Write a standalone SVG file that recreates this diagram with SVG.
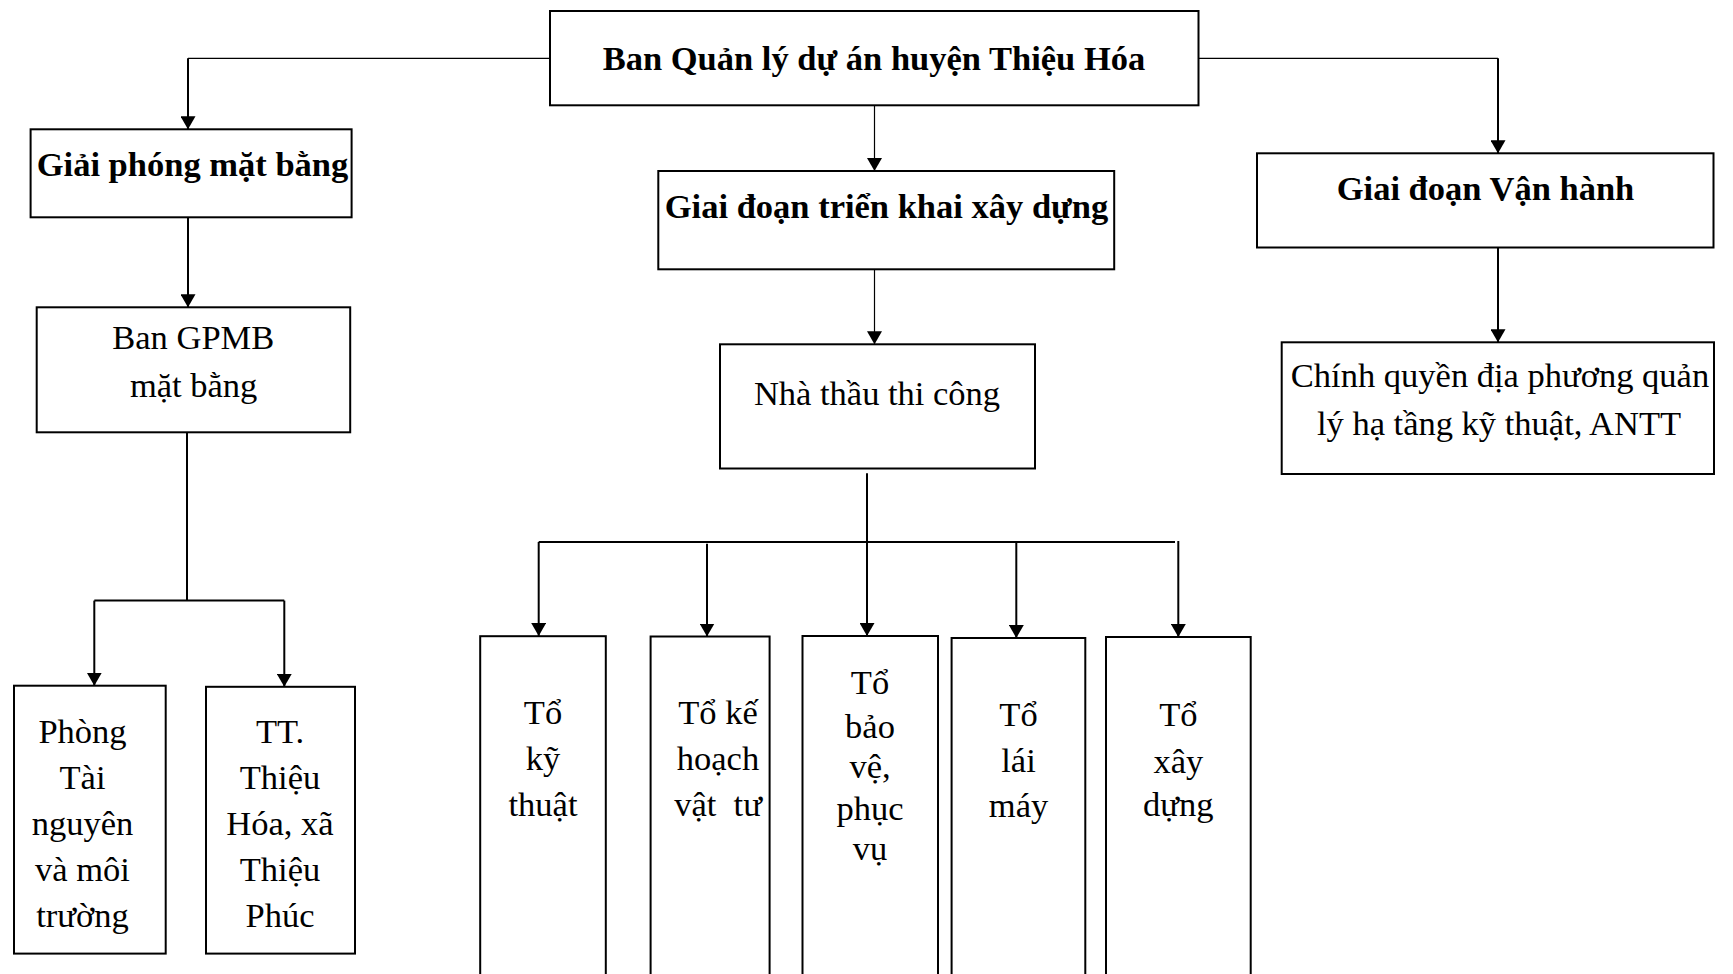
<svg xmlns="http://www.w3.org/2000/svg" width="1733" height="974" viewBox="0 0 1733 974">
<style>
.box{fill:#fff;stroke:#000;stroke-width:2}
.t{font-family:"Liberation Serif","Times New Roman",serif;font-size:34.5px;fill:#000;text-anchor:middle}
.b{font-weight:bold}
.ln{fill:none;stroke:#000;stroke-width:2}
.thin{fill:none;stroke:#000;stroke-width:1.2}
</style>
<defs>
<marker id="ah" viewBox="0 0 13 15" refX="13" refY="7.5" markerWidth="13" markerHeight="15" markerUnits="userSpaceOnUse" orient="auto">
<path d="M0,0 L13,7.5 L0,15 z" fill="#000"/>
</marker>
</defs>
<rect width="1733" height="974" fill="#fff"/>
<g id="connectors">
<polyline class="thin" points="550,58.3 188,58.3"/>
<line class="ln" x1="188" y1="58.3" x2="188" y2="129.3" marker-end="url(#ah)"/>
<polyline class="thin" points="1198.5,58.3 1498,58.3"/>
<line class="ln" x1="1498" y1="58.3" x2="1498" y2="153.3" marker-end="url(#ah)"/>
<line class="thin" x1="874.5" y1="105" x2="874.5" y2="171" marker-end="url(#ah)"/>
<line class="ln" x1="188" y1="217.3" x2="188" y2="307.3" marker-end="url(#ah)"/>
<line class="ln" x1="1498" y1="247.5" x2="1498" y2="342.3" marker-end="url(#ah)"/>
<line class="thin" x1="874.5" y1="269.3" x2="874.5" y2="344.3" marker-end="url(#ah)"/>
<line class="ln" x1="187" y1="432.3" x2="187" y2="600.6"/>
<polyline class="ln" points="94.3,600.6 284.3,600.6"/>
<line class="ln" x1="94.3" y1="600.6" x2="94.3" y2="685.7" marker-end="url(#ah)"/>
<line class="ln" x1="284.3" y1="600.6" x2="284.3" y2="686.8" marker-end="url(#ah)"/>
<line class="ln" x1="867" y1="473.3" x2="867" y2="636" marker-end="url(#ah)"/>
<polyline class="ln" points="538.7,542 1175,542"/>
<line class="ln" x1="538.7" y1="542" x2="538.7" y2="636" marker-end="url(#ah)"/>
<line class="ln" x1="707" y1="543.8" x2="707" y2="636.5" marker-end="url(#ah)"/>
<line class="ln" x1="1016.3" y1="542" x2="1016.3" y2="638" marker-end="url(#ah)"/>
<line class="ln" x1="1178.3" y1="541" x2="1178.3" y2="637" marker-end="url(#ah)"/>
</g>
<g id="node-ban-quan-ly">
<rect class="box" x="550" y="11" width="648.5" height="94.3"/>
<text class="t b" x="874" y="70">Ban Quản lý dự án huyện Thiệu Hóa</text>
</g>
<g id="node-giai-phong">
<rect class="box" x="30.6" y="129.3" width="321" height="88"/>
<text class="t b" x="192.5" y="175.7">Giải phóng mặt bằng</text>
</g>
<g id="node-trien-khai">
<rect class="box" x="658.3" y="171" width="455.9" height="98.3"/>
<text class="t b" x="886.5" y="217.7">Giai đoạn triển khai xây dựng</text>
</g>
<g id="node-van-hanh">
<rect class="box" x="1257" y="153.3" width="456.5" height="94.2"/>
<text class="t b" x="1485.5" y="200">Giai đoạn Vận hành</text>
</g>
<g id="node-ban-gpmb">
<rect class="box" x="36.7" y="307.3" width="313.5" height="125"/>
<text class="t" x="193.3" y="349">Ban GPMB</text>
<text class="t" x="193.6" y="396.7">mặt bằng</text>
</g>
<g id="node-nha-thau">
<rect class="box" x="720" y="344.3" width="315" height="124.2"/>
<text class="t" x="877" y="404.5">Nhà thầu thi công</text>
</g>
<g id="node-chinh-quyen">
<rect class="box" x="1281.7" y="342.3" width="432.3" height="131.7"/>
<text class="t" x="1500" y="387.3">Chính quyền địa phương quản</text>
<text class="t" x="1499" y="435">lý hạ tầng kỹ thuật, ANTT</text>
</g>
<g id="node-phong-tai-nguyen">
<rect class="box" x="14" y="685.7" width="151.7" height="267.9"/>
<text class="t" x="82.5" y="743.3">Phòng</text>
<text class="t" x="82.5" y="789.3">Tài</text>
<text class="t" x="82.5" y="835.2">nguyên</text>
<text class="t" x="82.5" y="881.1">và môi</text>
<text class="t" x="82.5" y="927">trường</text>
</g>
<g id="node-tt-thieu-hoa">
<rect class="box" x="206" y="686.8" width="149" height="266.8"/>
<text class="t" x="280" y="743.3">TT.</text>
<text class="t" x="280" y="789.3">Thiệu</text>
<text class="t" x="280" y="835.2">Hóa, xã</text>
<text class="t" x="280" y="881.1">Thiệu</text>
<text class="t" x="280" y="927">Phúc</text>
</g>
<g id="node-to-ky-thuat">
<rect class="box" x="480.2" y="636.2" width="125.6" height="350"/>
<text class="t" x="543" y="723.5">Tổ</text>
<text class="t" x="543" y="770">kỹ</text>
<text class="t" x="543" y="816">thuật</text>
</g>
<g id="node-to-ke-hoach">
<rect class="box" x="650.6" y="636.5" width="119" height="350"/>
<text class="t" x="718" y="723.5">Tổ kế</text>
<text class="t" x="718" y="770">hoạch</text>
<text class="t" x="718" y="816" xml:space="preserve">vật  tư</text>
</g>
<g id="node-to-bao-ve">
<rect class="box" x="802.5" y="636" width="135.5" height="350"/>
<text class="t" x="870" y="694">Tổ</text>
<text class="t" x="870" y="738.3">bảo</text>
<text class="t" x="870" y="777.5">vệ,</text>
<text class="t" x="870" y="820">phục</text>
<text class="t" x="870" y="860">vụ</text>
</g>
<g id="node-to-lai-may">
<rect class="box" x="951.6" y="638" width="133.7" height="350"/>
<text class="t" x="1018.5" y="725.5">Tổ</text>
<text class="t" x="1018.5" y="771.5">lái</text>
<text class="t" x="1018.5" y="817">máy</text>
</g>
<g id="node-to-xay-dung">
<rect class="box" x="1106" y="637" width="144.7" height="350"/>
<text class="t" x="1178.3" y="726">Tổ</text>
<text class="t" x="1178.3" y="772.5">xây</text>
<text class="t" x="1178.3" y="816">dựng</text>
</g>
</svg>
